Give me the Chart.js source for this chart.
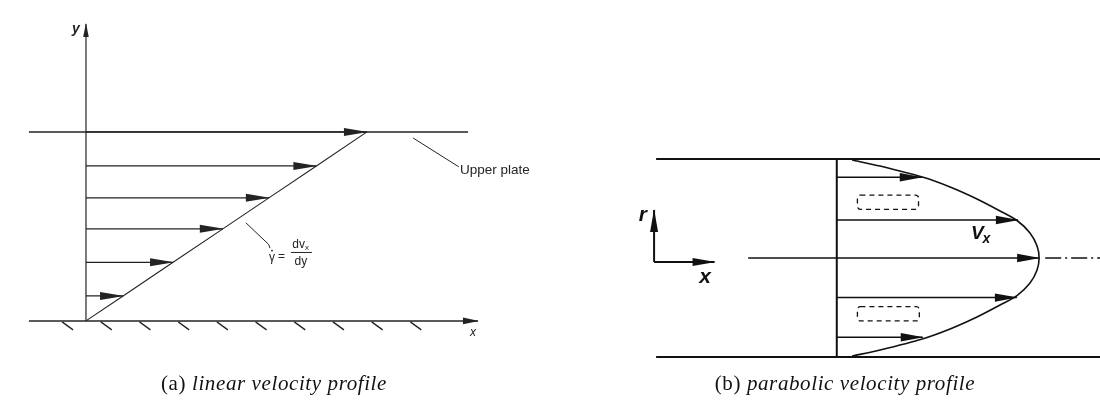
<!DOCTYPE html>
<html>
<head>
<meta charset="utf-8">
<script src="https://cdn.jsdelivr.net/npm/chart.js@4.4.1/dist/chart.umd.min.js"></script>
<style>
  html, body { margin: 0; padding: 0; background: #fff; }
  #wrap { position: relative; width: 1100px; height: 408px; overflow: hidden; background: #fff; }
  #shear { position: absolute; left: 0; top: 0; }
  #pipe { position: absolute; left: 560px; top: 0; }
  .cap { position: absolute; top: 373px; font: 21px/21px 'Liberation Serif', serif; letter-spacing: 0.6px; color: #111; text-align: center; white-space: nowrap; }
</style>
</head>
<body>
<div id="wrap">
  <canvas id="shear" width="560" height="408"></canvas>
  <canvas id="pipe" width="540" height="408"></canvas>
  <div class="cap" style="left:0;width:548px">(a) <i>linear velocity profile</i></div>
  <div class="cap" style="left:560px;width:570px">(b) <i>parabolic velocity profile</i></div>
</div>
<script>
// ---- (a) Couette flow between a fixed wall and a moving upper plate ----
// heights in units of the gap, velocities in units of the plate speed
const shearHeights = [0, 0.132, 0.310, 0.487, 0.651, 0.820, 1.0];
const shearSpeeds  = [0, 0.132, 0.310, 0.487, 0.651, 0.820, 1.0];

// ---- (b) Poiseuille flow in a tube ----
// radial position r/R and axial velocity vx/vmax along the profile curve
const tubeR  = [0.990, 0.929, 0.815, 0.717, 0.596, 0.475, 0.379, 0.253, 0.121, 0,
                -0.121, -0.253, -0.379, -0.475, -0.596, -0.717, -0.815, -0.929, -0.990];
const tubeVx = [0.076, 0.214, 0.427, 0.560, 0.693, 0.807, 0.891, 0.955, 0.990, 1.0,
                0.990, 0.955, 0.891, 0.807, 0.693, 0.560, 0.427, 0.214, 0.076];
// velocity vectors drawn inside the tube
const arrowR  = [0.815, 0.384, 0, -0.400, -0.800];
const arrowVx = [0.420, 0.895, 1.0, 0.890, 0.425];

// ---- shared drawing helpers ----
const INK_A = '#232323';
const INK_B = '#111111';

const arrowHeads = {
  id: 'arrowHeads',
  afterDatasetsDraw(chart) {
    const ctx = chart.ctx;
    chart.data.datasets.forEach((ds, i) => {
      if (!ds.head) return;
      const pts = chart.getDatasetMeta(i).data;
      const a = pts[pts.length - 2], b = pts[pts.length - 1];
      const ang = Math.atan2(b.y - a.y, b.x - a.x);
      const [len, half] = ds.head;
      ctx.save();
      ctx.translate(b.x, b.y);
      ctx.rotate(ang);
      ctx.beginPath();
      ctx.moveTo(1, 0);
      ctx.lineTo(-len, -half);
      ctx.lineTo(-len, half);
      ctx.closePath();
      ctx.fillStyle = ds.borderColor;
      ctx.fill();
      ctx.restore();
    });
  }
};

function seg(points, color, width, extra) {
  return Object.assign({
    data: points, showLine: true, borderColor: color, borderWidth: width,
    pointRadius: 0, pointHoverRadius: 0, fill: false, tension: 0
  }, extra || {});
}

function baseOptions(xr, yr, plugins) {
  return {
    type: 'scatter',
    options: {
      responsive: false,
      animation: false,
      events: [],
      layout: { padding: 0 },
      plugins: { legend: { display: false }, tooltip: { enabled: false } },
      scales: {
        x: { type: 'linear', display: false, min: xr[0], max: xr[1] },
        y: { type: 'linear', display: false, min: yr[0], max: yr[1] }
      }
    },
    plugins: plugins
  };
}

// ---------- chart (a) ----------
const plateSpan = [-0.203, 1.36];
const wallSpan = [-0.203, 1.395];
const yAxisTop = 1.571;
const hatch = { start: -0.085, step: 0.1377, count: 10 };

const shearDatasets = [];
// upper plate and fixed wall
shearDatasets.push(seg([{x: plateSpan[0], y: 1}, {x: plateSpan[1], y: 1}], INK_A, 1.5));
shearDatasets.push(seg([{x: wallSpan[0], y: 0}, {x: wallSpan[1], y: 0}], INK_A, 1.5, {head: [15, 3.4]}));
// y axis
shearDatasets.push(seg([{x: 0, y: 0}, {x: 0, y: yAxisTop}], INK_A, 1.2, {head: [13, 2.8]}));
// linear profile line
shearDatasets.push(seg(shearHeights.map((h, i) => ({x: shearSpeeds[i], y: h})), INK_A, 1.1));
// velocity vectors
shearHeights.forEach((h, i) => {
  if (i === 0) return;
  shearDatasets.push(seg([{x: 0, y: h}, {x: shearSpeeds[i], y: h}], INK_A, 1.2, {head: [23, 4]}));
});
// leader lines to labels
shearDatasets.push(seg([{x: 1.164, y: 0.968}, {x: 1.327, y: 0.815}], INK_A, 1.0));
shearDatasets.push(seg([{x: 0.569, y: 0.519}, {x: 0.650, y: 0.405}, {x: 0.655, y: 0.385}], INK_A, 1.0));

const shearDecor = {
  id: 'shearDecor',
  afterDatasetsDraw(chart) {
    const {ctx, scales: {x, y}} = chart;
    ctx.save();
    ctx.strokeStyle = INK_A;
    ctx.lineWidth = 1.3;
    const y0 = y.getPixelForValue(0);
    for (let i = 0; i < hatch.count; i++) {
      const px = x.getPixelForValue(hatch.start + i * hatch.step);
      ctx.beginPath();
      ctx.moveTo(px, y0 + 1);
      ctx.lineTo(px + 11, y0 + 9);
      ctx.stroke();
    }
    ctx.fillStyle = INK_A;
    ctx.textBaseline = 'middle';
    ctx.textAlign = 'center';
    ctx.font = 'italic bold 14px "Liberation Sans", Arial, sans-serif';
    ctx.fillText('y', x.getPixelForValue(-0.036), y.getPixelForValue(1.545));
    ctx.font = 'italic 12px "Liberation Sans", Arial, sans-serif';
    ctx.fillText('x', x.getPixelForValue(1.377), y.getPixelForValue(-0.063));
    ctx.textAlign = 'left';
    ctx.font = '13.5px "Liberation Sans", Arial, sans-serif';
    ctx.fillText('Upper plate', x.getPixelForValue(1.331), y.getPixelForValue(0.799));

    // shear rate label: gamma-dot = dvx / dy
    const gx = x.getPixelForValue(0.662), gy = y.getPixelForValue(0.339);
    ctx.textAlign = 'center';
    ctx.font = '12px "Liberation Sans", Arial, sans-serif';
    ctx.fillText('γ', gx, gy + 1);
    ctx.fillRect(gx - 0.8, gy - 7, 1.6, 1.6);
    ctx.fillText('=', x.getPixelForValue(0.696), gy);
    const fx = x.getPixelForValue(0.765);
    const bar = y.getPixelForValue(0.362);
    ctx.font = '12px "Liberation Sans", Arial, sans-serif';
    ctx.textAlign = 'right';
    ctx.fillText('dv', fx + 4, y.getPixelForValue(0.402));
    ctx.textAlign = 'left';
    ctx.font = '8px "Liberation Sans", Arial, sans-serif';
    ctx.fillText('x', fx + 4, y.getPixelForValue(0.385));
    ctx.font = '12px "Liberation Sans", Arial, sans-serif';
    ctx.textAlign = 'center';
    ctx.fillText('dy', fx, y.getPixelForValue(0.312));
    ctx.lineWidth = 1;
    ctx.beginPath();
    ctx.moveTo(fx - 10, bar);
    ctx.lineTo(fx + 11, bar);
    ctx.stroke();
    ctx.restore();
  }
};

const cfgA = baseOptions([-0.306, 1.687], [-0.461, 1.698], [arrowHeads, shearDecor]);
cfgA.data = { datasets: shearDatasets };
new Chart(document.getElementById('shear'), cfgA);

// ---------- chart (b) ----------
const tubeSpan = [-0.893, 1.301];
const centreStart = -0.438;
const glyph = { ox: -0.903, oy: -0.04, rTop: 0.485, xEnd: -0.604 };
const boxes = [[0.102, 0.404, 0.492, 0.636], [0.102, 0.408, -0.636, -0.492]];

const pipeDatasets = [];
// tube walls
pipeDatasets.push(seg([{x: tubeSpan[0], y: 1}, {x: tubeSpan[1], y: 1}], INK_B, 2));
pipeDatasets.push(seg([{x: tubeSpan[0], y: -1}, {x: tubeSpan[1], y: -1}], INK_B, 2));
// reference cross-section
pipeDatasets.push(seg([{x: 0, y: 1}, {x: 0, y: -1}], INK_B, 2));
// velocity profile
pipeDatasets.push(seg(tubeR.map((r, i) => ({x: tubeVx[i], y: r})), INK_B, 1.6, {tension: 0.25}));
// velocity vectors
arrowR.forEach((r, i) => {
  const start = r === 0 ? centreStart : 0;
  pipeDatasets.push(seg([{x: start, y: r}, {x: arrowVx[i], y: r}], INK_B, 1.5, {head: [22, 4.2]}));
});
// tube axis beyond the profile
pipeDatasets.push(seg([{x: 1.03, y: 0}, {x: tubeSpan[1], y: 0}], INK_B, 1.3, {borderDash: [16, 4, 2, 4]}));
// coordinate glyph r / x
pipeDatasets.push(seg([{x: glyph.ox, y: glyph.oy}, {x: glyph.ox, y: glyph.rTop}], INK_B, 2, {head: [22, 4]}));
pipeDatasets.push(seg([{x: glyph.ox, y: glyph.oy}, {x: glyph.xEnd, y: glyph.oy}], INK_B, 2, {head: [22, 4]}));

const pipeDecor = {
  id: 'pipeDecor',
  afterDatasetsDraw(chart) {
    const {ctx, scales: {x, y}} = chart;
    ctx.save();
    ctx.strokeStyle = INK_B;
    ctx.lineWidth = 1.3;
    ctx.setLineDash([5, 4]);
    boxes.forEach(([x0, x1, y0, y1]) => {
      const l = x.getPixelForValue(x0), r = x.getPixelForValue(x1);
      const t = y.getPixelForValue(y1), b = y.getPixelForValue(y0);
      ctx.beginPath();
      ctx.roundRect(l, t, r - l, b - t, 3);
      ctx.stroke();
    });
    ctx.setLineDash([]);
    ctx.fillStyle = INK_B;
    ctx.textAlign = 'center';
    ctx.textBaseline = 'middle';
    ctx.font = 'italic bold 21px "Liberation Sans", Arial, sans-serif';
    ctx.fillText('r', x.getPixelForValue(-0.959), y.getPixelForValue(0.434));
    ctx.fillText('x', x.getPixelForValue(-0.651), y.getPixelForValue(-0.192));
    ctx.font = 'italic bold 19px "Liberation Sans", Arial, sans-serif';
    ctx.fillText('V', x.getPixelForValue(0.695), y.getPixelForValue(0.245));
    ctx.font = 'italic bold 14px "Liberation Sans", Arial, sans-serif';
    ctx.fillText('x', x.getPixelForValue(0.740), y.getPixelForValue(0.190));
    ctx.restore();
  }
};

const cfgB = baseOptions([-1.368, 1.301], [-1.515, 2.606], [arrowHeads, pipeDecor]);
cfgB.data = { datasets: pipeDatasets };
new Chart(document.getElementById('pipe'), cfgB);
</script>
</body>
</html>
